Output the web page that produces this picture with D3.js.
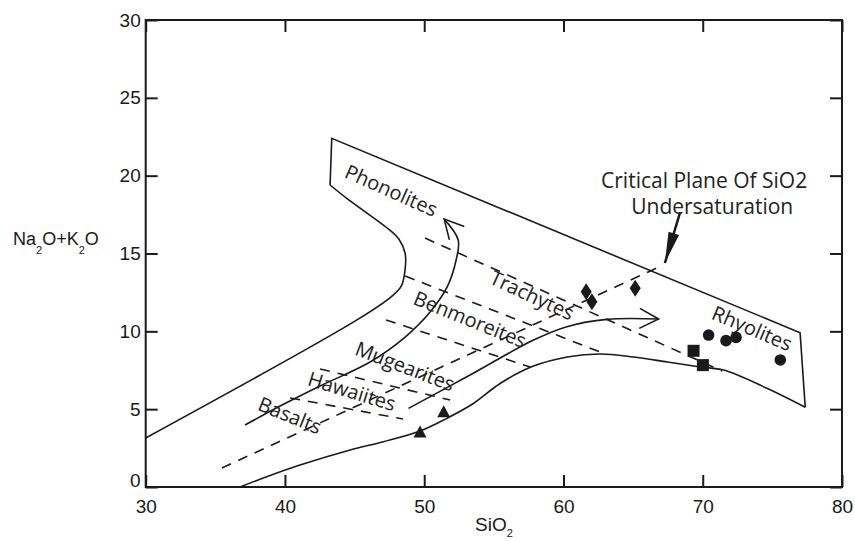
<!DOCTYPE html>
<html><head><meta charset="utf-8">
<script src="https://cdn.jsdelivr.net/npm/d3@7"></script>
<style>body{margin:0;background:#fff}svg{display:block}</style>
</head><body><svg id="chart" width="855" height="541"></svg>
<script>
// ---- data (SiO2 wt%, Na2O+K2O wt%) ----
const xTicks = [30, 40, 50, 60, 70, 80];
const yTicks = [0, 5, 10, 15, 20, 25, 30];

const boundaryLeft = [[30,3.15],[45.2,10.75],[47.6,12.2],[48.35,12.9],[48.63,14.0],[48.63,15.0],[48.2,15.9],[47.6,16.45],[44.44,18.54],[43.24,19.40]];
const boundaryTop = [[43.24,19.40],[43.36,22.40],[76.99,9.91],[77.36,5.12]];
const boundaryLower = [[77.36,5.12],[74.61,6.34],[71.5,7.51],[69.82,7.71],[67.45,8.03],[65.01,8.35],[62.64,8.54],[60.27,8.35],[57.8,7.75],[55.45,6.65],[53.5,5.35],[51.62,4.41],[49.71,3.60],[47.07,2.91],[44.68,2.38],[41.08,1.41],[38.69,0.66],[36.77,0]];

const divPhonTrach = [[50.06,15.99],[71.39,7.45]];
const divTrachBenm = [[48.63,13.55],[62.64,8.67]];
const divBenmMuge = [[47.26,10.73],[57.6,7.71]];
const divMugeHawa = [[42.52,7.58],[51.86,5.59]];
const divHawaBasa = [[40.37,5.72],[48.48,4.37]];
const criticalPlane = [[35.47,1.22],[67.16,14.26]];

const trendAlkaline = [[37.13,3.98],[39.65,5.20],[42.52,6.49],[46.11,8.03],[48.63,9.63],[50.42,11.24],[51.65,12.85],[52.29,14.58],[52.44,15.87],[51.43,17.21]];
const trendSubalkaline = [[48.87,5.05],[53.06,7.08],[57.85,9.44],[60.24,10.30],[63.12,10.77],[66.83,10.79]];

const triangles = [[49.7,3.5],[51.4,4.8]];
const diamonds = [[61.63,12.54],[62.04,11.90],[65.15,12.76]];
const squares = [[69.34,8.75],[70.01,7.83]];
const circles = [[70.42,9.76],[71.67,9.40],[72.39,9.61],[75.57,8.16]];

const fieldNames = ["Phonolites","Trachytes","Benmoreites","Mugearites","Hawaiites","Basalts","Rhyolites"];
const fieldAnchors = [[47.64,19.07],[57.75,12.33],[53.30,10.79],[48.63,7.77],[44.81,6.17],[40.36,4.62],[73.55,10.21]];
const fieldAngles = [24,25,22,21,17,22,23];

const noteLines = ["Critical Plane Of SiO2","Undersaturation"];
const noteAnchors = [[70.1,19.72],[70.68,18.05]];
const noteArrow = [[68.38,17.66],[67.28,14.39]];

// ---- drawing ----
const svg = d3.select("#chart");
const x = d3.scaleLinear().domain([30,80]).range([145.7,842]);
const y = d3.scaleLinear().domain([0,30]).range([487,20]);
const ink = "#1a1a1a";
const axisFont = "'Liberation Sans', Arial, sans-serif";
const labelFont = "'Open Sans', 'Noto Sans', sans-serif";

const defs = svg.append("defs");
defs.append("marker").attr("id","vhead").attr("markerUnits","userSpaceOnUse")
  .attr("viewBox","-22 -12 24 24").attr("refX",0).attr("refY",0)
  .attr("markerWidth",24).attr("markerHeight",24).attr("orient","auto")
  .append("path").attr("d","M-19,-10 L0,0 L-19,10").attr("fill","none")
  .attr("stroke",ink).attr("stroke-width",1.6);
defs.append("marker").attr("id","fhead").attr("markerUnits","userSpaceOnUse")
  .attr("viewBox","-34 -8 36 16").attr("refX",0).attr("refY",0)
  .attr("markerWidth",36).attr("markerHeight",16).attr("orient","auto")
  .append("path").attr("d","M-31,-5.5 L0,0 L-31,5.5 Z").attr("fill",ink);

// frame
svg.append("rect").attr("x",x(30)).attr("y",y(30))
  .attr("width",x(80)-x(30)).attr("height",y(0)-y(30))
  .attr("fill","none").attr("stroke",ink).attr("stroke-width",2);

function styleAxis(g){
  g.select(".domain").remove();
  g.selectAll(".tick line").attr("stroke",ink).attr("stroke-width",2);
  g.selectAll(".tick text").attr("fill",ink).attr("font-family",axisFont).attr("font-size",19);
}
svg.append("g").attr("transform",`translate(0,${y(0)})`)
  .call(d3.axisBottom(x).tickValues(xTicks).tickSize(-12).tickSizeOuter(0).tickPadding(12.5)).call(styleAxis);
svg.append("g").attr("transform",`translate(${x(30)},0)`)
  .call(d3.axisLeft(y).tickValues(yTicks).tickSize(-12).tickSizeOuter(0).tickPadding(5)).call(styleAxis)
  .selectAll(".tick text").filter(d=>d===0).attr("y",-7);
svg.append("g").attr("transform",`translate(0,${y(30)})`)
  .call(d3.axisTop(x).tickValues(xTicks).tickSize(-12).tickSizeOuter(0).tickFormat(()=>"")).call(styleAxis);
svg.append("g").attr("transform",`translate(${x(80)},0)`)
  .call(d3.axisRight(y).tickValues(yTicks).tickSize(-12).tickSizeOuter(0).tickFormat(()=>"")).call(styleAxis);

// axis titles
const xt = svg.append("text").attr("x",475).attr("y",531).attr("font-family",axisFont).attr("font-size",19).attr("fill",ink);
xt.append("tspan").text("SiO");
xt.append("tspan").attr("font-size",11).attr("dy",6).text("2");
const yt = svg.append("text").attr("x",13).attr("y",245).attr("font-family",axisFont).attr("font-size",18).attr("fill",ink);
yt.append("tspan").text("Na");
yt.append("tspan").attr("font-size",11).attr("dy",9).text("2");
yt.append("tspan").attr("dy",-9).text("O+K");
yt.append("tspan").attr("font-size",11).attr("dy",9).text("2");
yt.append("tspan").attr("dy",-9).text("O");

const straight = d3.line().x(d=>x(d[0])).y(d=>y(d[1]));
const smooth = d3.line().x(d=>x(d[0])).y(d=>y(d[1])).curve(d3.curveCatmullRom.alpha(0.5));

const plot = svg.append("g").attr("fill","none").attr("stroke",ink).attr("stroke-width",1.6);
plot.append("path").attr("d",smooth(boundaryLeft));
plot.append("path").attr("d",straight(boundaryTop)).attr("stroke-linejoin","miter");
plot.append("path").attr("d",smooth(boundaryLower));

[divPhonTrach,divTrachBenm,divBenmMuge,divMugeHawa,divHawaBasa,criticalPlane].forEach(d=>{
  plot.append("path").attr("d",straight(d)).attr("stroke-dasharray","10,8");
});

plot.append("path").attr("d",smooth(trendAlkaline)).attr("marker-end","url(#vhead)");
plot.append("path").attr("d",smooth(trendSubalkaline)).attr("marker-end","url(#vhead)");

// annotation arrow
svg.append("path").attr("d",straight(noteArrow)).attr("stroke",ink).attr("stroke-width",2.5)
  .attr("fill","none").attr("marker-end","url(#fhead)");

// samples
const sym = svg.append("g").attr("fill",ink);
sym.selectAll("path.tri").data(triangles).join("path").attr("class","tri")
  .attr("transform",d=>`translate(${x(d[0])},${y(d[1])})`)
  .attr("d","M0,-7 L6.5,5 L-6.5,5 Z");
sym.selectAll("path.dia").data(diamonds).join("path").attr("class","dia")
  .attr("transform",d=>`translate(${x(d[0])},${y(d[1])})`)
  .attr("d","M0,-8.5 L5.5,0 L0,8.5 L-5.5,0 Z");
sym.selectAll("rect").data(squares).join("rect")
  .attr("x",d=>x(d[0])-6).attr("y",d=>y(d[1])-6).attr("width",12).attr("height",12);
sym.selectAll("circle").data(circles).join("circle")
  .attr("cx",d=>x(d[0])).attr("cy",d=>y(d[1])).attr("r",5.8);

// field labels
svg.append("g").selectAll("text").data(fieldNames).join("text")
  .attr("transform",(d,i)=>`translate(${x(fieldAnchors[i][0])},${y(fieldAnchors[i][1])}) rotate(${fieldAngles[i]})`)
  .attr("text-anchor","middle").attr("dominant-baseline","central")
  .attr("font-family",labelFont).attr("font-size",20).attr("fill","#222")
  .text(d=>d);

// note text
svg.append("g").selectAll("text").data(noteLines).join("text")
  .attr("x",(d,i)=>x(noteAnchors[i][0])).attr("y",(d,i)=>y(noteAnchors[i][1]))
  .attr("text-anchor","middle").attr("dominant-baseline","central")
  .attr("font-family",labelFont).attr("font-size",21).attr("fill","#222")
  .text(d=>d);
</script>
</body></html>
